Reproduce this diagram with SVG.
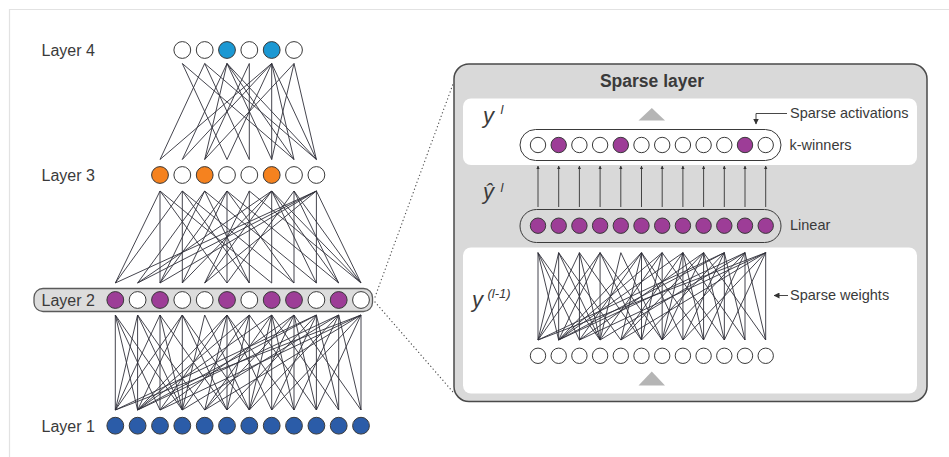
<svg xmlns="http://www.w3.org/2000/svg" xmlns:xlink="http://www.w3.org/1999/xlink" width="949" height="457" viewBox="0 0 949 457">
  <style>
    text { font-family: "Liberation Sans", Arial, sans-serif; fill: #3a3a3a; }
    .lbl { font-size: 16px; }
    .note { font-size: 14.5px; }
    .math { font-family: "Liberation Sans", Arial, sans-serif; font-style: italic; fill: #3a3a3a; }
    .edge { fill: none; stroke: #30303a; stroke-width: 0.9; }
    .node { stroke: #3a3a3a; stroke-width: 1; fill: #ffffff; }
    .blue { fill: #1b98d3; }
    .orange { fill: #f5821f; }
    .purple { fill: #9d3d97; }
    .navy { fill: #2b5ca8; }
    .dots { fill: none; stroke: #555; stroke-width: 1.3; stroke-dasharray: 0.1 3.6; stroke-linecap: round; }
    .tick { fill: none; stroke: #333; stroke-width: 0.9; }
  </style>
  <defs>
    <marker id="ah" viewBox="0 0 6 6" refX="5.5" refY="3" markerWidth="3.6" markerHeight="3.6" markerUnits="userSpaceOnUse" orient="auto">
      <path d="M0 0L6 3L0 6z" fill="#333"/>
    </marker>
    <marker id="ahb" viewBox="0 0 6 6" refX="5.5" refY="3" markerWidth="6" markerHeight="6" markerUnits="userSpaceOnUse" orient="auto">
      <path d="M0 0L6 3L0 6z" fill="#333"/>
    </marker>
    <!-- sparse 12x12 weight pattern, drawn between layer 2 and layer 1 -->
    <path id="w12" class="edge" vector-effect="non-scaling-stroke" d="
      M115.3 315L115.3 410M115.3 315L137.6 410M115.3 315L160 410M115.3 315L182.3 410
      M137.6 315L115.3 410M137.6 315L137.6 410M137.6 315L182.3 410M137.6 315L204.7 410
      M160 315L115.3 410M160 315L160 410M160 315L182.3 410M160 315L227 410
      M182.3 315L137.6 410M182.3 315L182.3 410M182.3 315L227 410M182.3 315L249.3 410M182.3 315L115.3 410
      M204.7 315L182.3 410M204.7 315L249.3 410
      M227 315L160 410M227 315L204.7 410M227 315L227 410M227 315L271.7 410M227 315L294 410M227 315L137.6 410
      M249.3 315L137.6 410M249.3 315L227 410M249.3 315L249.3 410M249.3 315L316.4 410M249.3 315L182.3 410
      M271.7 315L204.7 410M271.7 315L249.3 410M271.7 315L271.7 410M271.7 315L294 410M271.7 315L338.7 410M271.7 315L137.6 410
      M294 315L160 410M294 315L249.3 410M294 315L294 410M294 315L316.4 410M294 315L361 410M294 315L204.7 410
      M316.4 315L115.3 410M316.4 315L137.6 410M316.4 315L271.7 410M316.4 315L316.4 410M316.4 315L338.7 410M316.4 315L227 410
      M338.7 315L137.6 410M338.7 315L182.3 410M338.7 315L294 410M338.7 315L338.7 410M338.7 315L361 410M338.7 315L249.3 410
      M361 315L115.3 410M361 315L160 410M361 315L204.7 410M361 315L316.4 410M361 315L361 410M361 315L271.7 410"/>
  </defs>

  <!-- page frame -->
  <path d="M9.5 457V9.5H949" fill="none" stroke="#e2e2e2" stroke-width="1.2"/>

  <!-- detail panel backdrop: sparse layer -->
  <g id="sparse-layer-panel">
    <rect x="454" y="64" width="473" height="337.5" rx="15" fill="#d9d9d9" stroke="#4a4a4a" stroke-width="1.5"/>
    <text x="652" y="87" text-anchor="middle" font-size="17.5" font-weight="bold">Sparse layer</text>
    <rect x="463" y="98.5" width="454" height="66.5" rx="8" fill="#ffffff"/>
    <rect x="463" y="247.5" width="454" height="146" rx="8" fill="#ffffff"/>
    <path d="M638.5 120.5L651.8 108L665 120.5z" fill="#b5b5b5"/>
    <path d="M638.5 385.5L651.8 371.5L665 385.5z" fill="#b5b5b5"/>
  </g>

  <!-- connectors -->
  <g id="connectors">
    <path id="e43" class="edge" d="
      M182.3 63.5L227 159.5M182.3 63.5L294 159.5
      M204.7 63.5L160 159.5M204.7 63.5L249.3 159.5M204.7 63.5L316.4 159.5
      M227 63.5L182.3 159.5M227 63.5L204.7 159.5M227 63.5L271.7 159.5M227 63.5L294 159.5M227 63.5L316.4 159.5
      M249.3 63.5L249.3 159.5M249.3 63.5L204.7 159.5
      M271.7 63.5L160 159.5M271.7 63.5L182.3 159.5M271.7 63.5L227 159.5M271.7 63.5L271.7 159.5M271.7 63.5L294 159.5M271.7 63.5L316.4 159.5
      M294 63.5L204.7 159.5M294 63.5L271.7 159.5M294 63.5L316.4 159.5"/>
    <path id="e32" class="edge" d="
      M160 191L115.3 283M160 191L160 283M160 191L227 283M160 191L271.7 283
      M182.3 191L115.3 283M182.3 191L182.3 283M182.3 191L249.3 283M182.3 191L294 283
      M204.7 191L137.6 283M204.7 191L160 283M204.7 191L249.3 283M204.7 191L316.4 283
      M227 191L160 283M227 191L182.3 283M227 191L227 283M227 191L294 283M227 191L338.7 283
      M249.3 191L204.7 283M249.3 191L249.3 283M249.3 191L361 283
      M271.7 191L137.6 283M271.7 191L182.3 283M271.7 191L204.7 283M271.7 191L271.7 283M271.7 191L316.4 283M271.7 191L338.7 283M271.7 191L361 283
      M294 191L227 283M294 191L294 283M294 191L338.7 283M294 191L361 283
      M316.4 191L115.3 283M316.4 191L137.6 283M316.4 191L160 283M316.4 191L204.7 283M316.4 191L316.4 283M316.4 191L361 283"/>
    <use id="e21" href="#w12" xlink:href="#w12"/>
    <use id="sparse-weights" href="#w12" xlink:href="#w12" transform="matrix(0.9266 0 0 0.919 431.17 -36.8)"/>
    <!-- zoom guides from layer 2 to the detail panel -->
    <path class="dots" d="M375 297L453 84"/>
    <path class="dots" d="M375 302L453 392"/>
    <!-- linear to k-winners -->
    <g class="tick" marker-end="url(#ah)">
      <path d="M538 207V166"/><path d="M558.7 207V166"/><path d="M579.4 207V166"/><path d="M600.1 207V166"/>
      <path d="M620.8 207V166"/><path d="M641.5 207V166"/><path d="M662.2 207V166"/><path d="M682.9 207V166"/>
      <path d="M703.6 207V166"/><path d="M724.3 207V166"/><path d="M745 207V166"/><path d="M765.7 207V166"/>
    </g>
  </g>

  <!-- network layers -->
  <g id="layer4">
    <text class="lbl" x="41.5" y="55.5">Layer 4</text>
    <circle class="node" cx="182.3" cy="50" r="8.4"/>
    <circle class="node" cx="204.7" cy="50" r="8.4"/>
    <circle class="node blue" cx="227" cy="50" r="8.4"/>
    <circle class="node" cx="249.3" cy="50" r="8.4"/>
    <circle class="node blue" cx="271.7" cy="50" r="8.4"/>
    <circle class="node" cx="294" cy="50" r="8.4"/>
  </g>
  <g id="layer3">
    <text class="lbl" x="41.5" y="180.5">Layer 3</text>
    <circle class="node orange" cx="160" cy="175" r="8.4"/>
    <circle class="node" cx="182.3" cy="175" r="8.4"/>
    <circle class="node orange" cx="204.7" cy="175" r="8.4"/>
    <circle class="node" cx="227" cy="175" r="8.4"/>
    <circle class="node" cx="249.3" cy="175" r="8.4"/>
    <circle class="node orange" cx="271.7" cy="175" r="8.4"/>
    <circle class="node" cx="294" cy="175" r="8.4"/>
    <circle class="node" cx="316.4" cy="175" r="8.4"/>
  </g>
  <g id="layer2">
    <rect x="34" y="288.5" width="338.5" height="23" rx="9" fill="#dcdcdc" stroke="#5a5a5a" stroke-width="1.3"/>
    <text class="lbl" x="41.5" y="305.8">Layer 2</text>
    <circle class="node purple" cx="115.3" cy="300" r="8.4"/>
    <circle class="node" cx="137.6" cy="300" r="8.4"/>
    <circle class="node purple" cx="160" cy="300" r="8.4"/>
    <circle class="node" cx="182.3" cy="300" r="8.4"/>
    <circle class="node" cx="204.7" cy="300" r="8.4"/>
    <circle class="node purple" cx="227" cy="300" r="8.4"/>
    <circle class="node" cx="249.3" cy="300" r="8.4"/>
    <circle class="node purple" cx="271.7" cy="300" r="8.4"/>
    <circle class="node purple" cx="294" cy="300" r="8.4"/>
    <circle class="node" cx="316.4" cy="300" r="8.4"/>
    <circle class="node purple" cx="338.7" cy="300" r="8.4"/>
    <circle class="node" cx="361" cy="300" r="8.4"/>
  </g>
  <g id="layer1">
    <text class="lbl" x="41.5" y="431.5">Layer 1</text>
    <circle class="node navy" cx="115.3" cy="425.7" r="8.4"/>
    <circle class="node navy" cx="137.6" cy="425.7" r="8.4"/>
    <circle class="node navy" cx="160" cy="425.7" r="8.4"/>
    <circle class="node navy" cx="182.3" cy="425.7" r="8.4"/>
    <circle class="node navy" cx="204.7" cy="425.7" r="8.4"/>
    <circle class="node navy" cx="227" cy="425.7" r="8.4"/>
    <circle class="node navy" cx="249.3" cy="425.7" r="8.4"/>
    <circle class="node navy" cx="271.7" cy="425.7" r="8.4"/>
    <circle class="node navy" cx="294" cy="425.7" r="8.4"/>
    <circle class="node navy" cx="316.4" cy="425.7" r="8.4"/>
    <circle class="node navy" cx="338.7" cy="425.7" r="8.4"/>
    <circle class="node navy" cx="361" cy="425.7" r="8.4"/>
  </g>

  <g id="k-winners">
    <text class="math" x="483" y="123" font-size="22">y</text>
    <text class="math" x="500.5" y="114" font-size="13">l</text>
    <rect x="520" y="129.5" width="261" height="31" rx="15.5" fill="#ffffff" stroke="#3a3a3a" stroke-width="1"/>
    <circle class="node" cx="538" cy="145" r="7.7"/>
    <circle class="node purple" cx="558.7" cy="145" r="7.7"/>
    <circle class="node" cx="579.4" cy="145" r="7.7"/>
    <circle class="node" cx="600.1" cy="145" r="7.7"/>
    <circle class="node purple" cx="620.8" cy="145" r="7.7"/>
    <circle class="node" cx="641.5" cy="145" r="7.7"/>
    <circle class="node" cx="662.2" cy="145" r="7.7"/>
    <circle class="node" cx="682.9" cy="145" r="7.7"/>
    <circle class="node" cx="703.6" cy="145" r="7.7"/>
    <circle class="node" cx="724.3" cy="145" r="7.7"/>
    <circle class="node purple" cx="745" cy="145" r="7.7"/>
    <circle class="node" cx="765.7" cy="145" r="7.7"/>
    <text class="note" x="789.5" y="150">k-winners</text>
    <path class="tick" d="M787 113.5H756V124" marker-end="url(#ahb)"/>
    <text class="note" x="790" y="118">Sparse activations</text>
  </g>

  <g id="linear">
    <text class="math" x="483" y="199" font-size="22">ŷ</text>
    <text class="math" x="500.5" y="192" font-size="13">l</text>
    <rect x="520" y="209.5" width="261" height="33" rx="16.5" fill="none" stroke="#3a3a3a" stroke-width="1"/>
    <circle class="node purple" cx="538" cy="225.7" r="7.7"/>
    <circle class="node purple" cx="558.7" cy="225.7" r="7.7"/>
    <circle class="node purple" cx="579.4" cy="225.7" r="7.7"/>
    <circle class="node purple" cx="600.1" cy="225.7" r="7.7"/>
    <circle class="node purple" cx="620.8" cy="225.7" r="7.7"/>
    <circle class="node purple" cx="641.5" cy="225.7" r="7.7"/>
    <circle class="node purple" cx="662.2" cy="225.7" r="7.7"/>
    <circle class="node purple" cx="682.9" cy="225.7" r="7.7"/>
    <circle class="node purple" cx="703.6" cy="225.7" r="7.7"/>
    <circle class="node purple" cx="724.3" cy="225.7" r="7.7"/>
    <circle class="node purple" cx="745" cy="225.7" r="7.7"/>
    <circle class="node purple" cx="765.7" cy="225.7" r="7.7"/>
    <text class="note" x="790" y="230">Linear</text>
  </g>

  <g id="input-row">
    <text class="math" x="472" y="307" font-size="22">y</text>
    <text class="math" x="487.5" y="298" font-size="13">(l-1)</text>
    <circle class="node" cx="538" cy="355.8" r="7.7"/>
    <circle class="node" cx="558.7" cy="355.8" r="7.7"/>
    <circle class="node" cx="579.4" cy="355.8" r="7.7"/>
    <circle class="node" cx="600.1" cy="355.8" r="7.7"/>
    <circle class="node" cx="620.8" cy="355.8" r="7.7"/>
    <circle class="node" cx="641.5" cy="355.8" r="7.7"/>
    <circle class="node" cx="662.2" cy="355.8" r="7.7"/>
    <circle class="node" cx="682.9" cy="355.8" r="7.7"/>
    <circle class="node" cx="703.6" cy="355.8" r="7.7"/>
    <circle class="node" cx="724.3" cy="355.8" r="7.7"/>
    <circle class="node" cx="745" cy="355.8" r="7.7"/>
    <circle class="node" cx="765.7" cy="355.8" r="7.7"/>
    <path class="tick" d="M788 295.5H774" marker-end="url(#ahb)"/>
    <text class="note" x="790" y="300">Sparse weights</text>
  </g>
</svg>
